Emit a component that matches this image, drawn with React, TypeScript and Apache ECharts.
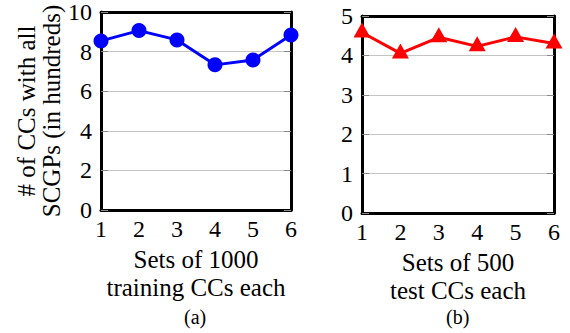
import React, { useEffect, useRef } from "react";
import * as echarts from "echarts";

const setNumbers = [1, 2, 3, 4, 5, 6];
const trainingValues = [8.54, 9.06, 8.59, 7.33, 7.58, 8.84];
const testValues = [4.58, 4.05, 4.46, 4.23, 4.47, 4.3];
const leftYTicks = { min: 0, max: 10, interval: 2 };
const rightYTicks = { min: 0, max: 5, interval: 1 };

const FONT = "Liberation Serif";
const BORDER = { color: "#000", width: 3 };

export default function App() {
  const ref = useRef<HTMLDivElement>(null);
  useEffect(() => {
    document.body.style.margin = "0";
    const chart = echarts.init(ref.current!, undefined, { renderer: "svg" });
    const tickLabel = { fontFamily: FONT, fontSize: 24, color: "#000" };
    const xAxisBase = (gridIndex: number, name: string) => ({
      type: "value",
      gridIndex,
      min: 1,
      max: 6,
      interval: 1,
      name,
      nameLocation: "middle",
      nameGap: 35,
      nameTextStyle: { fontFamily: FONT, fontSize: 25, color: "#000", lineHeight: 28 },
      axisLine: { show: true, onZero: false, lineStyle: BORDER },
      axisTick: { show: false },
      splitLine: { show: false },
      axisLabel: { ...tickLabel, margin: 7 },
    });
    const xAxisTop = (gridIndex: number) => ({
      type: "value",
      gridIndex,
      position: "top",
      min: 1,
      max: 6,
      interval: 1,
      axisLine: { show: true, onZero: false, lineStyle: BORDER },
      axisTick: { show: false },
      splitLine: { show: false },
      axisLabel: { show: false },
    });
    const yAxisBase = (gridIndex: number, t: any, position: string, showLabels: boolean) => ({
      type: "value",
      gridIndex,
      position,
      min: t.min,
      max: t.max,
      interval: t.interval,
      axisLine: { show: true, onZero: false, lineStyle: BORDER },
      axisTick: { show: true, inside: true, length: 7, lineStyle: { color: "#8a8a8a", width: 1 } },
      splitLine: { show: showLabels, lineStyle: { color: "#c4c4c4", width: 1 } },
      axisLabel: { ...tickLabel, show: showLabels, margin: 9 },
    });
    chart.setOption({
      animation: false,
      backgroundColor: "#fff",
      grid: [
        { left: 101, top: 12, width: 190, height: 198 },
        { left: 362, top: 16, width: 192, height: 197 },
      ],
      xAxis: [
        xAxisBase(0, "Sets of 1000\ntraining CCs each"),
        xAxisBase(1, "Sets of 500\ntest CCs each"),
        xAxisTop(0),
        xAxisTop(1),
      ],
      yAxis: [
        {
          ...yAxisBase(0, leftYTicks, "left", true),
          name: "# of CCs with all\nSCGPs (in hundreds)",
          nameLocation: "middle",
          nameRotate: 90,
          nameGap: 37,
          nameTextStyle: { fontFamily: FONT, fontSize: 25, color: "#000", lineHeight: 25 },
        },
        yAxisBase(0, leftYTicks, "right", false),
        yAxisBase(1, rightYTicks, "left", true),
        yAxisBase(1, rightYTicks, "right", false),
      ],
      series: [
        {
          type: "line",
          xAxisIndex: 0,
          yAxisIndex: 0,
          data: setNumbers.map((x, i) => [x, trainingValues[i]]),
          symbol: "circle",
          symbolSize: 15,
          clip: false,
          lineStyle: { color: "#0000ff", width: 3 },
          itemStyle: { color: "#0000ff" },
          z: 5,
        },
        {
          type: "line",
          xAxisIndex: 1,
          yAxisIndex: 2,
          data: setNumbers.map((x, i) => [x, testValues[i]]),
          symbol: "triangle",
          symbolSize: [17, 15],
          symbolOffset: [0, -2.5],
          clip: false,
          lineStyle: { color: "#ff0000", width: 3 },
          itemStyle: { color: "#ff0000" },
          z: 5,
        },
      ],
      graphic: [
        { type: "text", left: 184, top: 307, style: { text: "(a)", fontFamily: FONT, fontSize: 20, fill: "#000" } },
        { type: "text", left: 446, top: 307, style: { text: "(b)", fontFamily: FONT, fontSize: 20, fill: "#000" } },
      ],
    });
    return () => chart.dispose();
  }, []);
  return <div ref={ref} style={{ position: "fixed", left: 0, top: 0, width: 570, height: 333 }} />;
}
